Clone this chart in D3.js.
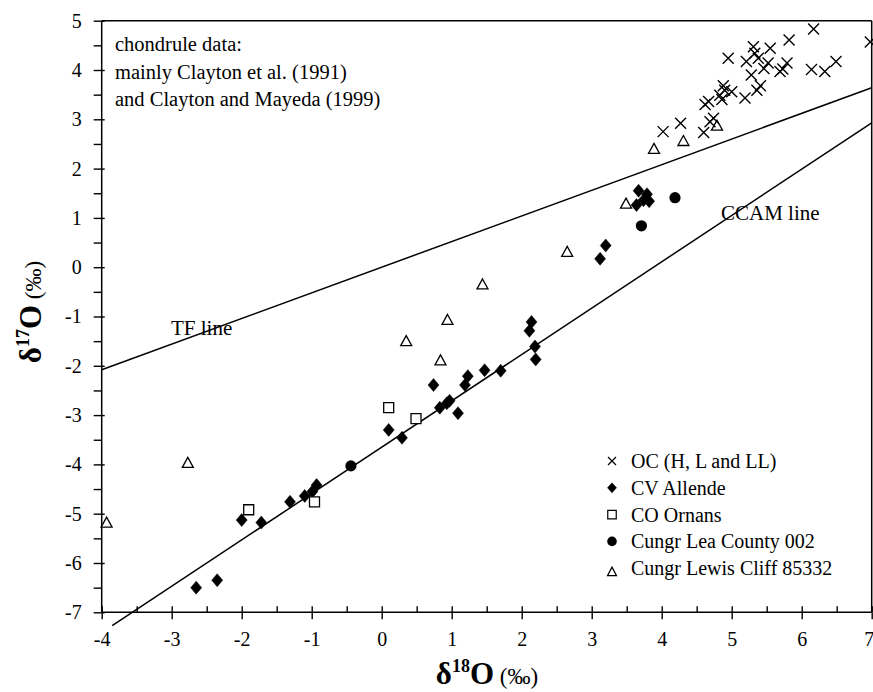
<!DOCTYPE html>
<html>
<head>
<meta charset="utf-8">
<script src="https://cdn.jsdelivr.net/npm/d3@7"></script>
<style>
  body { margin: 0; background: #fff; }
  svg { display: block; font-family: "Liberation Serif", "Times New Roman", serif; }
</style>
</head>
<body>
<svg id="chart" width="873" height="692"></svg>
<script>
// ---- data (δ18O, δ17O) ----
const ocPoints = [[4.02,2.75],[4.27,2.92],[4.60,2.73],[4.69,2.95],[4.74,3.02],[4.62,3.30],[4.67,3.36],
  [4.86,3.40],[4.83,3.49],[4.90,3.59],[4.88,3.68],[5.00,3.56],[4.95,4.24],[5.19,3.43],[5.21,4.17],
  [5.28,3.90],[5.31,4.47],[5.33,4.34],[5.38,4.24],[5.36,3.59],[5.41,3.68],[5.46,4.03],[5.52,4.14],
  [5.55,4.44],[5.69,3.97],[5.73,4.02],[5.79,4.14],[5.82,4.61],[6.17,4.83],[6.14,4.01],[6.33,3.97],
  [6.49,4.17],[6.98,4.57]];
const cvPoints = [[-2.65,-6.50],[-2.35,-6.35],[-2.00,-5.13],[-1.72,-5.18],[-1.31,-4.76],[-1.10,-4.64],
  [-0.99,-4.55],[-0.93,-4.42],[0.10,-3.30],[0.29,-3.46],[0.74,-2.39],[0.83,-2.85],[0.97,-2.71],
  [0.93,-2.76],[1.09,-2.96],[1.19,-2.39],[1.23,-2.21],[1.47,-2.09],[1.70,-2.10],[2.14,-1.11],
  [2.11,-1.29],[2.19,-1.61],[2.20,-1.87],[3.12,0.17],[3.20,0.44],[3.67,1.55],[3.79,1.48],
  [3.82,1.34],[3.64,1.26],[3.74,1.36]];
const coPoints = [[-1.90,-4.92],[-0.96,-4.76],[0.10,-2.85],[0.49,-3.07]];
const leaPoints = [[-0.44,-4.03],[3.71,0.84],[4.19,1.41]];
const lewisPoints = [[-3.93,-5.19],[-2.77,-3.98],[0.35,-1.51],[0.84,-1.90],[0.94,-1.08],[1.44,-0.36],
  [2.65,0.30],[3.49,1.28],[3.89,2.39],[4.31,2.55],[4.79,2.86]];

// reference lines: [x, y] end points
const tfLine = [[-4, -2.08], [7, 3.64]];          // slope 0.52
const ccamLine = [[-3.85, -7.27], [7, 2.93]];     // slope 0.94

const xMajor = [-4,-3,-2,-1,0,1,2,3,4,5,6,7];
const yMajor = [-7,-6,-5,-4,-3,-2,-1,0,1,2,3,4,5];
const xMinor = [-3.5,-2.5,-1.5,-0.5,0.5,1.5,2.5,3.5,4.5,5.5,6.5];
const yMinor = [-6.5,-5.5,-4.5,-3.5,-2.5,-1.5,-0.5,0.5,1.5,2.5,3.5,4.5];

const legendLabels = ["OC (H, L and LL)", "CV Allende", "CO Ornans", "Cungr Lea County 002", "Cungr Lewis Cliff 85332"];
const noteLines = ["chondrule data:", "mainly Clayton et al. (1991)", "and Clayton and Mayeda (1999)"];

// ---- drawing ----
const svg = d3.select("#chart");
const x = d3.scaleLinear().domain([-4, 7]).range([101.7, 871.7]);
const y = d3.scaleLinear().domain([-7, 5]).range([612.3, 20.7]);

const ink = "#000";

// marker shape generators (size in px)
function crossPath(s) { const h = s/2; return `M${-h},${-h}L${h},${h}M${-h},${h}L${h},${-h}`; }
function diamondPath(w, h) { return `M0,${-h/2}L${w/2},0L0,${h/2}L${-w/2},0Z`; }
function squarePath(s) { const h = s/2; return `M${-h},${-h}H${h}V${h}H${-h}Z`; }
function trianglePath(w, h) { return `M0,${-h*0.6}L${w/2},${h*0.4}L${-w/2},${h*0.4}Z`; }

// lines
const lineGen = d3.line().x(d => x(d[0])).y(d => y(d[1]));
svg.append("path").attr("d", lineGen(tfLine)).attr("fill", "none").attr("stroke", ink).attr("stroke-width", 1.5);
svg.append("path").attr("d", lineGen(ccamLine)).attr("fill", "none").attr("stroke", ink).attr("stroke-width", 1.5);

// frame top/right
svg.append("line").attr("x1", x(-4)).attr("x2", x(7)).attr("y1", y(5)).attr("y2", y(5)).attr("stroke", ink).attr("stroke-width", 1.5);
svg.append("line").attr("x1", x(7)).attr("x2", x(7)).attr("y1", y(5)).attr("y2", y(-7)).attr("stroke", ink).attr("stroke-width", 1.5);

// axes
function styleAxis(g) {
  g.attr("font-family", "Liberation Serif");
  g.selectAll("line").attr("stroke", ink).attr("stroke-width", 1.4);
  g.selectAll("path.domain").remove();
  g.selectAll("text").attr("font-family", "Liberation Serif").attr("font-size", 20).attr("fill", ink);
}
const gx = svg.append("g").attr("transform", `translate(0,${y(-7)})`);
gx.append("g").call(d3.axisBottom(x).tickValues(xMajor).tickSize(7).tickPadding(13).tickFormat(d => String(d))).call(styleAxis);
gx.append("g").call(d3.axisBottom(x).tickValues(xMajor).tickSize(-6).tickFormat("")).call(styleAxis);
gx.append("g").call(d3.axisBottom(x).tickValues(xMinor).tickSize(-6).tickFormat("")).call(styleAxis);
// last label sits at the page edge, nudge it inward slightly
gx.selectAll("text").filter(d => d === 7).attr("dx", -3);

const gy = svg.append("g").attr("transform", `translate(${x(-4)},0)`);
gy.append("g").call(d3.axisLeft(y).tickValues(yMajor).tickSize(8).tickPadding(12).tickFormat(d => String(d))).call(styleAxis);
gy.append("g").call(d3.axisLeft(y).tickValues(yMajor).tickSize(-3).tickFormat("")).call(styleAxis);
gy.append("g").call(d3.axisLeft(y).tickValues(yMinor).tickSize(8).tickFormat("")).call(styleAxis);

svg.append("line").attr("x1", x(-4)).attr("x2", x(7)).attr("y1", y(-7)).attr("y2", y(-7)).attr("stroke", ink).attr("stroke-width", 1.5);
svg.append("line").attr("x1", x(-4)).attr("x2", x(-4)).attr("y1", y(5)).attr("y2", y(-7)).attr("stroke", ink).attr("stroke-width", 1.5);

// points
const pts = svg.append("g");
function drawSeries(data, pathStr, fill, stroke, sw) {
  pts.append("g").selectAll("path").data(data).join("path")
    .attr("transform", d => `translate(${x(d[0])},${y(d[1])})`)
    .attr("d", pathStr).attr("fill", fill).attr("stroke", stroke).attr("stroke-width", sw);
}
drawSeries(cvPoints, diamondPath(11, 13), ink, ink, 0.5);
pts.append("g").selectAll("circle").data(leaPoints).join("circle")
  .attr("cx", d => x(d[0])).attr("cy", d => y(d[1])).attr("r", 5.6).attr("fill", ink);
drawSeries(coPoints, squarePath(10), "#fff", ink, 1.3);
drawSeries(lewisPoints, trianglePath(11, 10), "#fff", ink, 1.3);
drawSeries(ocPoints, crossPath(11), "none", ink, 1.4);

// annotations
svg.append("text").attr("x", 171).attr("y", 335).attr("font-size", 21).text("TF line");
svg.append("text").attr("x", 721).attr("y", 220).attr("font-size", 21).text("CCAM line");

const note = svg.append("g");
noteLines.forEach((t, i) => {
  note.append("text").attr("x", 115).attr("y", 51 + i * 27.5).attr("font-size", 20.5).text(t);
});

// legend
const legendShapes = [
  {d: crossPath(8), fill: "none", sw: 1.2},
  {d: diamondPath(9, 10), fill: ink, sw: 0.5},
  {d: squarePath(8.5), fill: "#fff", sw: 1.2},
  {circle: true},
  {d: trianglePath(9, 8.5), fill: "#fff", sw: 1.2}
];
const lg = svg.append("g");
legendLabels.forEach((lab, i) => {
  const cy = 461 + i * 26.8;
  const s = legendShapes[i];
  if (s.circle) lg.append("circle").attr("cx", 612).attr("cy", cy).attr("r", 4.8).attr("fill", ink);
  else lg.append("path").attr("transform", `translate(612,${cy + (i === 4 ? 4 : 0)})`).attr("d", s.d)
        .attr("fill", s.fill).attr("stroke", ink).attr("stroke-width", s.sw);
  lg.append("text").attr("x", 631).attr("y", cy + 7).attr("font-size", 20).text(lab);
});

// axis titles
const xt = svg.append("text").attr("x", 487).attr("y", 684).attr("text-anchor", "middle");
xt.append("tspan").attr("font-size", 31).attr("font-weight", "bold").text("δ");
xt.append("tspan").attr("font-size", 18).attr("font-weight", "bold").attr("dy", -12).text("18");
xt.append("tspan").attr("font-size", 31).attr("font-weight", "bold").attr("dy", 12).text("O");
xt.append("tspan").attr("font-size", 23).text(" (‰)");

const yt = svg.append("text").attr("transform", "translate(41,312) rotate(-90)").attr("text-anchor", "middle");
yt.append("tspan").attr("font-size", 31).attr("font-weight", "bold").text("δ");
yt.append("tspan").attr("font-size", 18).attr("font-weight", "bold").attr("dy", -12).text("17");
yt.append("tspan").attr("font-size", 31).attr("font-weight", "bold").attr("dy", 12).text("O");
yt.append("tspan").attr("font-size", 23).text(" (‰)");
</script>
</body>
</html>
